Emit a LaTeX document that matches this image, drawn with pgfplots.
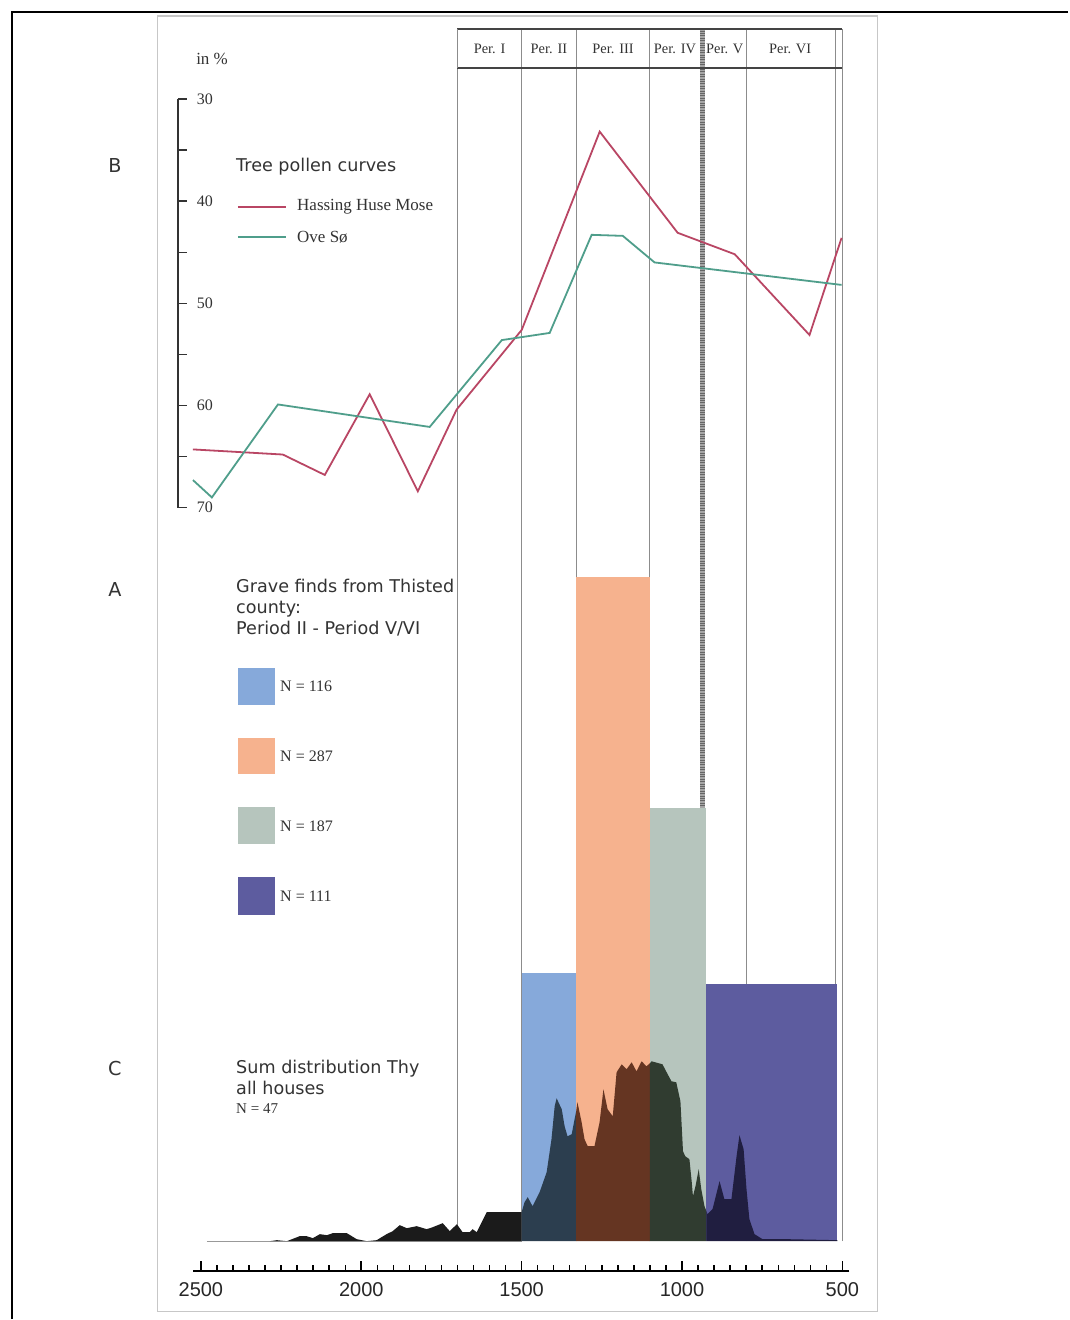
\documentclass[border=0pt]{standalone}
\usepackage{fontspec}
\setmainfont{Liberation Serif}
\newfontfamily\dejavu{DejaVu Sans}
\newfontfamily\lsans{Liberation Sans}
\usepackage{pgfplots}
\pgfplotsset{compat=1.18}
\definecolor{hhm}{HTML}{B94664}
\definecolor{ove}{HTML}{4F9E8B}
\definecolor{gblue}{HTML}{86A9DA}
\definecolor{gorange}{HTML}{F6B28E}
\definecolor{ggray}{HTML}{B6C5BD}
\definecolor{gpurple}{HTML}{5D5C9F}
\definecolor{dblack}{HTML}{1B1B1B}
\definecolor{dblue}{HTML}{2C3E4F}
\definecolor{dorange}{HTML}{653522}
\definecolor{dgray}{HTML}{303C30}
\definecolor{dpurple}{HTML}{201E40}
\definecolor{pline}{HTML}{8C8C8C}
\definecolor{hdr}{HTML}{444444}
\definecolor{txt}{HTML}{333333}
\begin{document}
\begin{tikzpicture}
\begin{scope}[x=0.5pt,y=-0.5pt]
\fill[white] (0,0) rectangle (1069,1320);
\draw[line width=0.9pt] (12,1320) -- (12,12) -- (1069,12);
\draw[black!22, line width=0.6pt] (158,16) rectangle (878,1312);
\tikzset{lbl/.style={font=\dejavu\fontsize{9.6}{11}\selectfont, text=txt, inner sep=0pt},
  sans/.style={font=\dejavu\fontsize{8.8}{10.5}\selectfont, text=txt, inner sep=0pt, anchor=base west},
  ser/.style={font=\fontsize{8.5}{10}\selectfont, text=txt, inner sep=0pt, anchor=west}}
\node[lbl] at (115,166) {B};
\node[lbl] at (115,590) {A};
\node[lbl] at (115,1069) {C};
\node[ser, anchor=base west] at (196,65) {in \%};
\node[sans] at (236,172) {Tree pollen curves};
\draw[hhm, line width=0.9pt] (238,207) -- (286,207);
\draw[ove, line width=0.9pt] (238,237) -- (286,237);
\node[ser] at (297,207) {Hassing Huse Mose};
\node[ser] at (297,237) {Ove Sø};
\node[sans] at (236,593) {Grave finds from Thisted};
\node[sans] at (236,614) {county:};
\node[sans] at (236,635) {Period II - Period V/VI};
\fill[gblue] (238,668) rectangle (275,705);
\fill[gorange] (238,738) rectangle (275,775);
\fill[ggray] (238,808) rectangle (275,845);
\fill[gpurple] (238,878) rectangle (275,916);
\node[ser, font=\fontsize{8}{9}\selectfont] at (280,687) {N = 116};
\node[ser, font=\fontsize{8}{9}\selectfont] at (280,757) {N = 287};
\node[ser, font=\fontsize{8}{9}\selectfont] at (280,827) {N = 187};
\node[ser, font=\fontsize{8}{9}\selectfont] at (280,897) {N = 111};
\node[sans] at (236,1074) {Sum distribution Thy};
\node[sans] at (236,1095) {all houses};
\node[ser, anchor=base west, font=\fontsize{7.5}{9}\selectfont] at (236,1114) {N = 47};
\end{scope}

% lower axis: periods, grave finds, sum distribution
\begin{axis}[at={(100.5pt,-621pt)}, anchor=south west, scale only axis,
  width=321pt, height=350pt, xmin=500, xmax=2500, x dir=reverse,
  ymin=0, ymax=700, axis lines=none, clip=false]
% period boundaries
\draw[pline, line width=0.5pt] (axis cs:1700,0) -- (axis cs:1700,1213);
\draw[pline, line width=0.5pt] (axis cs:1500,0) -- (axis cs:1500,1213);
\draw[pline, line width=0.5pt] (axis cs:1330,0) -- (axis cs:1330,1213);
\draw[pline, line width=0.5pt] (axis cs:1100,0) -- (axis cs:1100,1213);
\draw[pline, line width=0.5pt] (axis cs:800,0) -- (axis cs:800,1213);
\draw[pline, line width=0.5pt] (axis cs:522,0) -- (axis cs:522,1213);
\draw[pline, line width=0.6pt] (axis cs:500,0) -- (axis cs:500,1213);
\draw[black!35, line width=2.4pt] (axis cs:935,433) -- (axis cs:935,1213);
\draw[black!60, line width=2.4pt, dash pattern=on 0.4pt off 0.8pt] (axis cs:935,433) -- (axis cs:935,1213);
% grave finds
\addplot[draw=none, fill=gblue] coordinates {(1500,268) (1330,268)} \closedcycle;
\addplot[draw=none, fill=gorange] coordinates {(1330,665) (1100,665)} \closedcycle;
\addplot[draw=none, fill=ggray] coordinates {(1100,433) (924,433)} \closedcycle;
\addplot[draw=none, fill=gpurple] coordinates {(924,257) (516,257)} \closedcycle;
% sum distribution baseline
\addplot[black!40, line width=0.6pt] coordinates {(2481,0) (1500,0)};
% sum distribution
\addplot[draw=none, fill=dblack] coordinates {(2285,0)(2263,1)(2232,0)(2192,5)(2170,5)(2151,3)(2129,7)(2107,6)(2089,8)(2045,8)(2014,2)(1983,0)(1952,1)(1921,7)(1902,10)(1880,16)(1858,13)(1827,15)(1796,12)(1777,14)(1746,18)(1724,10)(1702,17)(1684,9)(1662,9)(1653,12)(1640,9)(1609,29)(1528,29)(1506,29)(1500,29)} \closedcycle;
\addplot[draw=none, fill=dblue] coordinates {(1500,29)(1491,39)(1481,44)(1466,35)(1444,49)(1422,69)(1407,102)(1397,135)(1391,143)(1375,132)(1366,115)(1357,105)(1344,107)(1335,122)(1330,130)} \closedcycle;
\addplot[draw=none, fill=dorange] coordinates {(1330,130)(1326,139)(1313,119)(1304,102)(1294,95)(1273,95)(1257,119)(1245,152)(1232,132)(1216,125)(1204,169)(1188,177)(1173,172)(1157,179)(1142,170)(1126,180)(1111,175)(1100,178)} \closedcycle;
\addplot[draw=none, fill=dgray] coordinates {(1100,178)(1095,180)(1061,177)(1048,169)(1033,160)(1018,159)(1005,140)(997,90)(990,85)(977,82)(970,60)(966,45)(958,55)(948,72)(940,52)(930,35)(924,30)} \closedcycle;
\addplot[draw=none, fill=dpurple] coordinates {(924,30)(921,27)(905,32)(883,60)(868,42)(846,42)(830,85)(821,106)(808,92)(799,52)(790,22)(774,7)(749,2)(674,2)(516,1)} \closedcycle;
% header
\draw[hdr, line width=1pt] (axis cs:1700,1213) -- (axis cs:500,1213);
\draw[hdr, line width=1pt] (axis cs:1700,1174) -- (axis cs:500,1174);
\draw[pline, line width=0.6pt] (axis cs:1700,1174) -- (axis cs:1700,1213);
\tikzset{per/.style={font=\fontsize{7.2}{8}\selectfont, text=txt, inner sep=0pt}}
\node[per] at (axis cs:1600,1193) {Per. I};
\node[per] at (axis cs:1415,1193) {Per. II};
\node[per] at (axis cs:1215,1193) {Per. III};
\node[per] at (axis cs:1022,1193) {Per. IV};
\node[per] at (axis cs:867,1193) {Per. V};
\node[per] at (axis cs:663,1193) {Per. VI};
\end{axis}

% pollen curves
\begin{axis}[at={(89pt,-254pt)}, anchor=south west, scale only axis,
  width=332.55pt, height=204.5pt, xmin=500, xmax=2572, x dir=reverse,
  ymin=30, ymax=70, y dir=reverse, axis lines=none, clip=false]
\addplot[hhm, line width=0.9pt] coordinates {(2525,64.3)(2245,64.8)(2114,66.8)(1974,58.9)(1824,68.4)(1703,60.4)(1500,52.6)(1257,33.2)(1014,43.1)(836,45.2)(603,53.1)(503,43.6)};
\addplot[ove, line width=0.9pt] coordinates {(2525,67.3)(2466,69.0)(2260,59.9)(1787,62.1)(1562,53.6)(1413,52.9)(1282,43.3)(1185,43.4)(1086,46.0)(503,48.2)};
\end{axis}

% pollen scale
\begin{axis}[at={(89pt,-254pt)}, anchor=south west, scale only axis,
  width=5pt, height=204.5pt, xmin=0, xmax=1, ymin=30, ymax=70, y dir=reverse,
  axis x line=none, axis y line=left, y axis line style={-, line width=0.7pt, black!80},
  ytick={30,40,50,60,70}, yticklabels={30,40,50,60,70}, minor ytick={35,45,55,65},
  tick align=inside, major tick length=4.5pt, minor tick length=4.5pt,
  tick style={black!80, line width=0.7pt},
  yticklabel style={anchor=west, xshift=6pt, font=\fontsize{8}{9}\selectfont, text=txt}]
\end{axis}

% time axis
\begin{axis}[at={(96.5pt,-636pt)}, anchor=south west, scale only axis,
  width=328.5pt, height=2pt, xmin=478, xmax=2525, x dir=reverse, ymin=0, ymax=1,
  axis y line=none, axis x line=bottom, x axis line style={-, line width=1.2pt},
  xtick={500,550,...,2500}, xticklabels={}, major tick length=3pt,
  extra x ticks={500,1000,1500,2000,2500}, extra x tick labels={500,1000,1500,2000,2500},
  extra x tick style={major tick length=5pt, tick style={line width=0.8pt}},
  tick align=inside,
  tick style={black, line width=0.7pt},
  xticklabel style={font=\lsans\fontsize{10}{12}\selectfont, text=black!85, yshift=-2pt}]
\end{axis}
\end{tikzpicture}
\end{document}
